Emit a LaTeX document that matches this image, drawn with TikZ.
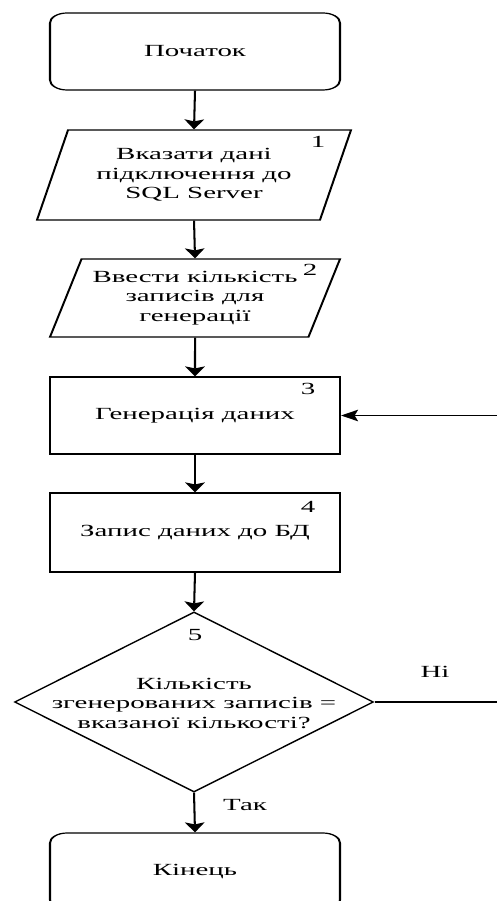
\documentclass[tikz,border=0pt]{standalone}
\usepackage{fontspec}
\setmainfont{Liberation Serif}
\usetikzlibrary{shapes.geometric,arrows.meta}
\begin{document}
\begin{tikzpicture}[x=1pt,y=-1pt]
\useasboundingbox (0,0) rectangle (497,901);
% the whole chart is drawn widened by 1.7 horizontally (text, strokes and tips alike)
\begin{scope}[transform canvas={xscale=1.7}, x=0.588235pt, y=-1pt,
  every node/.style={font=\fontsize{17}{19.5}\selectfont},
  flow/.style={draw, line width=1.2pt, inner sep=0pt, align=center},
  terminal/.style={flow, rectangle, rounded corners=10pt, minimum width=170.6pt, minimum height=77pt},
  process/.style={flow, rectangle, minimum width=170.6pt, minimum height=78pt},
  io/.style={flow, trapezium, trapezium left angle=71, trapezium right angle=109,
    trapezium stretches body},
  decision/.style={flow, diamond, minimum width=211.2pt, minimum height=180pt},
  num/.style={inner sep=0pt},
  lbl/.style={inner sep=0pt},
  arrow/.style={-{Stealth[length=10pt,width=11.5pt,inset=2pt]}, line width=1.2pt},
]
\clip (0,0) rectangle (497,901);

% blocks
\node[terminal] (start) at (195,51.5) {Початок};
\node[io, minimum width=184.7pt, minimum height=90pt] (in1) at (194,175)
  {Вказати дані\\підключення до\\SQL Server};
\node[io, minimum width=170.6pt, minimum height=78pt] (in2) at (195,298)
  {Ввести кількість\\записів для\\генерації};
\node[process, minimum height=77pt] (gen) at (195,415.5) {Генерація даних};
\node[process, minimum height=79pt] (save) at (195,532.5) {Запис даних до БД};
\node[decision] (check) at (194,702) {};
\node[lbl, align=center] (checktext) at (194,703)
  {Кількість\\згенерованих записів =\\вказаної кількості?};
\node[terminal] (stop) at (195,871.5) {Кінець};

% block numbers
\node[num] (n1) at (318,142) {1};
\node[num] (n2) at (310,270) {2};
\node[num] (n3) at (308,389) {3};
\node[num] (n4) at (308,507) {4};
\node[num] (n5) at (195,635) {5};

% connectors
\draw[arrow] (start.south) -- (in1.north);
\draw[arrow] (in1.south) -- (in2.north);
\draw[arrow] (in2.south) -- (gen.north);
\draw[arrow] (gen.south) -- (save.north);
\draw[arrow] (save.south) -- (check.north);
\draw[arrow] (check.south) -- (stop.north);
\coordinate (loopcorner) at (530,702);
\draw[arrow] (check.east) -- (loopcorner) |- (gen.east);

% branch labels
\node[lbl] (no) at (435,672) {Ні};
\node[lbl] (yes) at (245,805) {Так};
\end{scope}
\end{tikzpicture}
\end{document}
